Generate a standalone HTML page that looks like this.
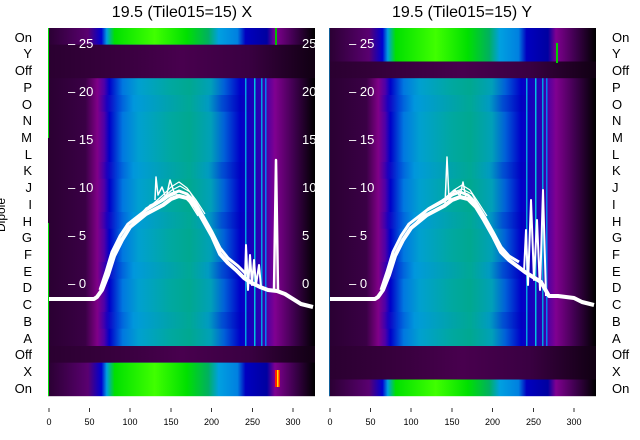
<!DOCTYPE html>
<html><head><meta charset="utf-8"><style>
html,body{margin:0;padding:0;background:#fff;width:640px;height:440px;overflow:hidden}
svg{display:block;font-family:"Liberation Sans","DejaVu Sans",sans-serif}
</style></head><body>
<svg width="640" height="440" viewBox="0 0 640 440" xmlns="http://www.w3.org/2000/svg">
<defs>
<linearGradient id="gd">
<stop offset="0" stop-color="#2a0032"/><stop offset="0.14" stop-color="#3a0045"/>
<stop offset="0.185" stop-color="#800088"/><stop offset="0.21" stop-color="#5000a8"/>
<stop offset="0.23" stop-color="#0000c8"/><stop offset="0.28" stop-color="#0078e0"/>
<stop offset="0.34" stop-color="#00a0d0"/><stop offset="0.46" stop-color="#00a8a0"/>
<stop offset="0.53" stop-color="#00a890"/><stop offset="0.61" stop-color="#00a0b8"/>
<stop offset="0.66" stop-color="#0060d8"/><stop offset="0.72" stop-color="#0000c8"/>
<stop offset="0.8" stop-color="#3000b0"/><stop offset="0.85" stop-color="#800090"/>
<stop offset="0.92" stop-color="#400050"/><stop offset="1" stop-color="#000000"/>
</linearGradient>
<linearGradient id="gd2">
<stop offset="0" stop-color="#2a0032"/><stop offset="0.14" stop-color="#3a0045"/>
<stop offset="0.185" stop-color="#800088"/><stop offset="0.22" stop-color="#1800c0"/>
<stop offset="0.26" stop-color="#0040d8"/><stop offset="0.32" stop-color="#0098e0"/>
<stop offset="0.46" stop-color="#00a0b0"/><stop offset="0.53" stop-color="#00a898"/>
<stop offset="0.6" stop-color="#0098c8"/><stop offset="0.65" stop-color="#0040d0"/>
<stop offset="0.72" stop-color="#0000c0"/><stop offset="0.8" stop-color="#3000b0"/>
<stop offset="0.85" stop-color="#800090"/><stop offset="0.92" stop-color="#400050"/>
<stop offset="1" stop-color="#000000"/>
</linearGradient>
<linearGradient id="go">
<stop offset="0" stop-color="#2a0030"/><stop offset="0.3" stop-color="#3a0040"/>
<stop offset="0.5" stop-color="#48004e"/><stop offset="0.75" stop-color="#3a0042"/>
<stop offset="1" stop-color="#100012"/>
</linearGradient>
<linearGradient id="gn">
<stop offset="0" stop-color="#2a0032"/><stop offset="0.15" stop-color="#5a0070"/>
<stop offset="0.2" stop-color="#0000d0"/><stop offset="0.22" stop-color="#00a0e0"/>
<stop offset="0.25" stop-color="#00e000"/><stop offset="0.4" stop-color="#40ff00"/>
<stop offset="0.52" stop-color="#00e000"/><stop offset="0.6" stop-color="#00b060"/>
<stop offset="0.64" stop-color="#00a0e0"/><stop offset="0.71" stop-color="#0080e0"/>
<stop offset="0.74" stop-color="#0000c0"/><stop offset="0.82" stop-color="#0000a0"/>
<stop offset="0.85" stop-color="#800090"/><stop offset="0.92" stop-color="#400050"/>
<stop offset="1" stop-color="#000000"/>
</linearGradient>
<g id="data">
<rect x="0" y="0" width="267" height="368" fill="url(#gd)"/>
<rect x="0" y="67" width="267" height="16.7" fill="url(#gd2)" opacity="0.7"/>
<rect x="0" y="134" width="267" height="16.7" fill="url(#gd2)" opacity="0.6"/>
<rect x="0" y="184" width="267" height="16.7" fill="url(#gd2)" opacity="0.6"/>
<rect x="0" y="234" width="267" height="16.7" fill="url(#gd2)" opacity="0.7"/>
<rect x="0" y="284" width="267" height="16.7" fill="url(#gd2)" opacity="0.6"/>
<rect x="197" y="50" width="1.5" height="268" fill="#00a0e0"/>
<rect x="206" y="50" width="1.5" height="268" fill="#00c0e0"/>
<rect x="213" y="50" width="1.5" height="268" fill="#00a0e0"/>
<rect x="217" y="50" width="1.5" height="268" fill="#0080f0"/>
</g>
</defs>

<g transform="translate(48,28)">
<use href="#data"/>
<rect x="0" y="0" width="267" height="16.7" fill="url(#gn)"/>
<rect x="0" y="16.7" width="267" height="33.5" fill="url(#go)"/>
<rect x="0" y="318" width="267" height="16.7" fill="url(#go)"/>
<rect x="0" y="334.7" width="267" height="33.5" fill="url(#gn)"/>
<rect x="0" y="0" width="1" height="110" fill="#00e000"/>
<rect x="0" y="195" width="1" height="173" fill="#00e000"/>
<rect x="227" y="0" width="2" height="17" fill="#00c000"/>
<rect x="227" y="342" width="5" height="17" fill="#ff2000"/>
<rect x="229" y="342" width="1.5" height="17" fill="#ffe000"/>
</g>
<g transform="translate(329,28)">
<use href="#data"/>
<rect x="0" y="0" width="267" height="33.5" fill="url(#gn)"/>
<rect x="0" y="33.5" width="267" height="16.7" fill="url(#go)"/>
<rect x="0" y="318" width="267" height="33.5" fill="url(#go)"/>
<rect x="0" y="351.5" width="267" height="16.7" fill="url(#gn)"/>
<rect x="0" y="0" width="1" height="368" fill="#00a0e0" opacity="0.6"/>
<rect x="227" y="15" width="2" height="20" fill="#00d000"/>
</g>

<g fill="none" stroke="#fff" stroke-linejoin="round">
<polyline stroke-width="4" points="49,299 94,299 97,297 102,290 108,275 114,256 122,240 130,227 146,214 163,205 171,199 179,196 187,198 195,206 203,220 212,236 220,254 228,263 236,270 244,278 252,283 260,287 268,290 277,291 285,294 293,299 301,304 313,307"/>
<polyline stroke-width="3" points="100,290 106,272 112,252 120,236 128,224 146,210 163,200 171,194 179,191 187,194 195,202 203,216 212,232 220,248 228,258 238,266 246,274"/>
<polyline stroke-width="1.2" points="102,285 110,262 118,243 128,230 146,210 163,195 171,187 179,182 187,188 196,200 205,214"/>
<polyline stroke-width="1.2" points="104,282 112,258 120,240 130,226 146,208 160,200 172,190 180,186 190,192 200,210"/>
<polyline stroke-width="1.2" points="106,280 114,253 124,236 136,220 150,205 166,198 176,194 188,200 198,216"/>
<polyline stroke-width="1.5" points="155,200 156,177 158,195 162,187 166,198 170,180 174,192"/>
<polyline stroke-width="2" points="245,278 246,245 248,290 250,255 252,285 254,260 256,285 259,265 261,287"/>
<polyline stroke-width="2.5" points="274,291 276,160 278,291"/>
</g>
<g fill="none" stroke="#fff" stroke-linejoin="round">
<polyline stroke-width="4" points="330,299 375,299 378,297 383,290 389,275 395,256 403,240 411,228 427,215 444,206 452,200 460,197 468,199 476,207 484,220 493,236 501,252 509,260 517,266 525,272 533,277 541,282 549,296 558,296 566,297 574,298 582,302 594,305"/>
<polyline stroke-width="3" points="381,290 387,272 393,252 401,236 409,224 427,210 444,201 452,195 460,192 468,195 476,203 484,216 493,232 501,247 509,256 519,262"/>
<polyline stroke-width="1.2" points="384,286 392,262 400,244 410,230 428,210 445,198 454,190 462,185 470,190 478,202 487,216"/>
<polyline stroke-width="1.2" points="386,283 394,258 402,240 412,227 428,208 442,200 454,192 462,189 472,194 482,212"/>
<polyline stroke-width="1.5" points="445,205 447,157 449,200 455,190 460,196 463,182 466,198"/>
<polyline stroke-width="2" points="524,272 526,230 528,285 531,200 534,280 537,220 540,290 543,190 546,296"/>
</g>

<g fill="#fff" font-size="13">
<text x="68" y="48">– 25</text><text x="68" y="96">– 20</text><text x="68" y="144">– 15</text>
<text x="68" y="192">– 10</text><text x="68" y="240">– 5</text><text x="68" y="288">– 0</text>
<text x="349" y="48">– 25</text><text x="349" y="96">– 20</text><text x="349" y="144">– 15</text>
<text x="349" y="192">– 10</text><text x="349" y="240">– 5</text><text x="349" y="288">– 0</text>
<text x="302" y="48">25</text><text x="302" y="96">20</text><text x="302" y="144">15</text>
<text x="302" y="192">10</text><text x="302" y="240">5</text><text x="302" y="288">0</text>
</g>
<rect x="315" y="20" width="14" height="380" fill="#fff"/>

<text x="182" y="17" font-size="16" text-anchor="middle" fill="#000">19.5 (Tile015=15) X</text>
<text x="462" y="17" font-size="16" text-anchor="middle" fill="#000">19.5 (Tile015=15) Y</text>

<g font-size="13" fill="#000">
<g text-anchor="end">
<text x="32" y="42">On</text><text x="32" y="58">Y</text><text x="32" y="75">Off</text><text x="32" y="92">P</text>
<text x="32" y="109">O</text><text x="32" y="125">N</text><text x="32" y="142">M</text><text x="32" y="159">L</text>
<text x="32" y="175">K</text><text x="32" y="192">J</text><text x="32" y="209">I</text><text x="32" y="226">H</text>
<text x="32" y="242">G</text><text x="32" y="259">F</text><text x="32" y="276">E</text><text x="32" y="292">D</text>
<text x="32" y="309">C</text><text x="32" y="326">B</text><text x="32" y="343">A</text><text x="32" y="359">Off</text>
<text x="32" y="376">X</text><text x="32" y="393">On</text>
</g>
<g>
<text x="612" y="42">On</text><text x="612" y="58">Y</text><text x="612" y="75">Off</text><text x="612" y="92">P</text>
<text x="612" y="109">O</text><text x="612" y="125">N</text><text x="612" y="142">M</text><text x="612" y="159">L</text>
<text x="612" y="175">K</text><text x="612" y="192">J</text><text x="612" y="209">I</text><text x="612" y="226">H</text>
<text x="612" y="242">G</text><text x="612" y="259">F</text><text x="612" y="276">E</text><text x="612" y="292">D</text>
<text x="612" y="309">C</text><text x="612" y="326">B</text><text x="612" y="343">A</text><text x="612" y="359">Off</text>
<text x="612" y="376">X</text><text x="612" y="393">On</text>
</g>
<text transform="translate(5,215) rotate(-90)" text-anchor="middle" font-size="12">Dipole</text>
</g>

<g stroke="#000" stroke-width="0.8">
<line x1="49" y1="408" x2="49" y2="412"/><line x1="89.5" y1="408" x2="89.5" y2="412"/><line x1="130" y1="408" x2="130" y2="412"/>
<line x1="171" y1="408" x2="171" y2="412"/><line x1="211.5" y1="408" x2="211.5" y2="412"/><line x1="252.5" y1="408" x2="252.5" y2="412"/><line x1="293" y1="408" x2="293" y2="412"/>
<line x1="330" y1="408" x2="330" y2="412"/><line x1="370.5" y1="408" x2="370.5" y2="412"/><line x1="411" y1="408" x2="411" y2="412"/>
<line x1="452" y1="408" x2="452" y2="412"/><line x1="492.5" y1="408" x2="492.5" y2="412"/><line x1="533.5" y1="408" x2="533.5" y2="412"/><line x1="574" y1="408" x2="574" y2="412"/>
</g>
<g font-size="9" text-anchor="middle" fill="#000">
<text x="49" y="425">0</text><text x="89.5" y="425">50</text><text x="130" y="425">100</text><text x="171" y="425">150</text>
<text x="211.5" y="425">200</text><text x="252.5" y="425">250</text><text x="293" y="425">300</text>
<text x="330" y="425">0</text><text x="370.5" y="425">50</text><text x="411" y="425">100</text><text x="452" y="425">150</text>
<text x="492.5" y="425">200</text><text x="533.5" y="425">250</text><text x="574" y="425">300</text>
</g>
</svg>
</body></html>
